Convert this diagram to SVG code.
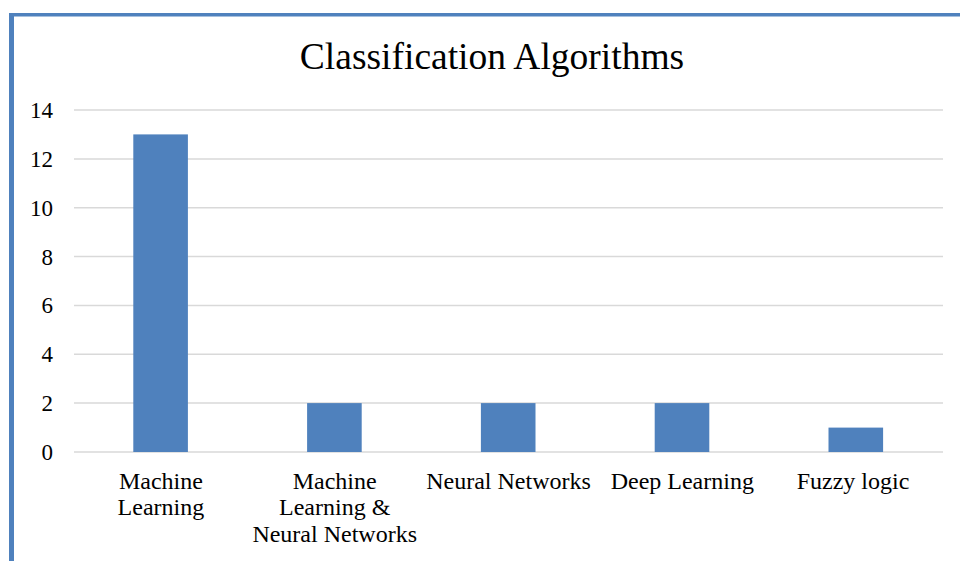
<svg xmlns="http://www.w3.org/2000/svg" width="960" height="561" viewBox="0 0 960 561">
  <style>
    text { font-family: "Liberation Serif", "Times New Roman", serif; fill: #000; }
    .grid { stroke: #D9D9D9; stroke-width: 1.5; }
    .bar { fill: #4F81BD; }
    .tick { font-size: 23px; text-anchor: end; }
    .cat { font-size: 24px; text-anchor: middle; }
    .title { font-size: 37.5px; text-anchor: middle; }
  </style>
  <rect width="960" height="561" fill="#fff"/>
  <!-- chart frame -->
  <g id="frame" fill="#4F81BD">
    <rect x="9" y="13" width="951" height="3.5"/>
    <rect x="9" y="13" width="5" height="548"/>
  </g>
  <text class="title" x="492" y="68.5">Classification Algorithms</text>
  <!-- value axis: gridlines every 2 units, 24.43px per unit -->
  <g id="gridlines">
    <line class="grid" x1="74" y1="452" x2="943" y2="452"/>
    <line class="grid" x1="74" y1="403.1" x2="943" y2="403.1"/>
    <line class="grid" x1="74" y1="354.3" x2="943" y2="354.3"/>
    <line class="grid" x1="74" y1="305.4" x2="943" y2="305.4"/>
    <line class="grid" x1="74" y1="256.6" x2="943" y2="256.6"/>
    <line class="grid" x1="74" y1="207.7" x2="943" y2="207.7"/>
    <line class="grid" x1="74" y1="158.9" x2="943" y2="158.9"/>
    <line class="grid" x1="74" y1="110" x2="943" y2="110"/>
  </g>
  <g id="ticks">
    <text class="tick" x="53" y="460">0</text>
    <text class="tick" x="53" y="411">2</text>
    <text class="tick" x="53" y="362">4</text>
    <text class="tick" x="53" y="313">6</text>
    <text class="tick" x="53" y="264.5">8</text>
    <text class="tick" x="53" y="215.5">10</text>
    <text class="tick" x="53" y="166.8">12</text>
    <text class="tick" x="53" y="118">14</text>
  </g>
  <!-- bars -->
  <g id="bars">
    <rect id="bar-ml" class="bar" x="133.3" y="134.4" width="54.6" height="317.6"/>
    <rect id="bar-mlnn" class="bar" x="307.1" y="403.1" width="54.6" height="48.9"/>
    <rect id="bar-nn" class="bar" x="480.9" y="403.1" width="54.6" height="48.9"/>
    <rect id="bar-dl" class="bar" x="654.7" y="403.1" width="54.6" height="48.9"/>
    <rect id="bar-fl" class="bar" x="828.5" y="427.6" width="54.6" height="24.4"/>
  </g>
  <!-- category labels -->
  <g id="categories">
    <text class="cat" x="160.9" y="489.3">Machine</text>
    <text class="cat" x="160.9" y="515.3">Learning</text>
    <text class="cat" x="334.7" y="489.3">Machine</text>
    <text class="cat" x="334.7" y="515.3">Learning &amp;</text>
    <text class="cat" x="334.7" y="542.3">Neural Networks</text>
    <text class="cat" x="508.5" y="489.3">Neural Networks</text>
    <text class="cat" x="682.3" y="489.3">Deep Learning</text>
    <text class="cat" x="853" y="489.3">Fuzzy logic</text>
  </g>
</svg>
